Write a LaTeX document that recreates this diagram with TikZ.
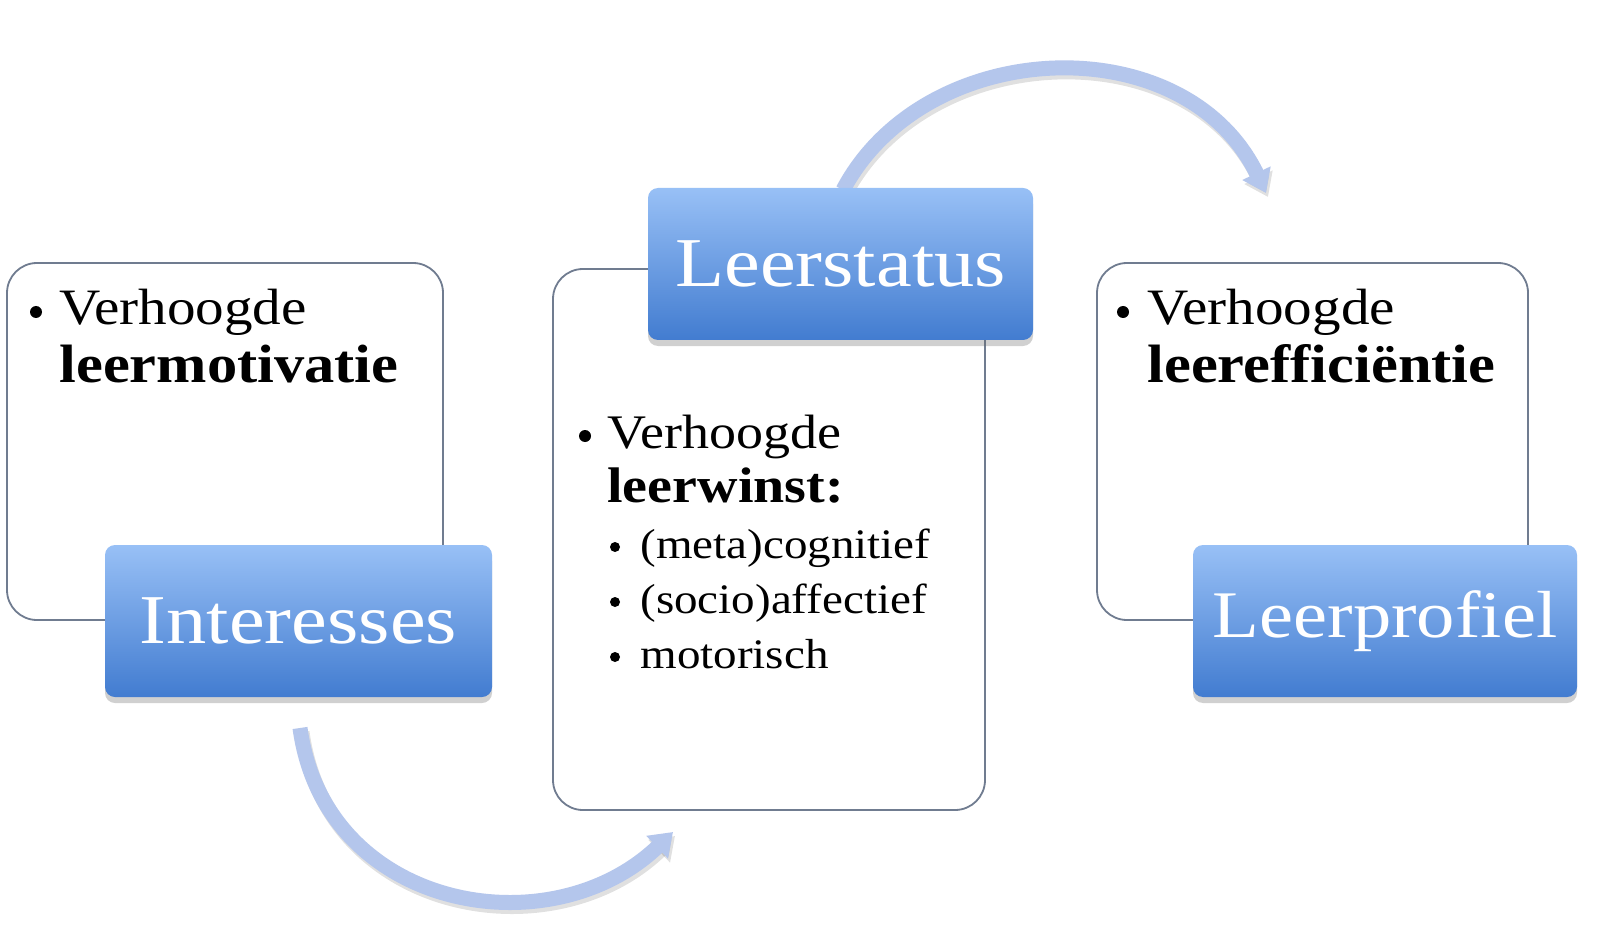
\documentclass[tikz,border=0pt]{standalone}
\usepackage{fontspec}
\setmainfont[FakeStretch=1.12]{Liberation Serif}
\newfontfamily\lblfont[FakeStretch=1.15]{Liberation Serif}
\usetikzlibrary{arrows.meta,shadows}
\definecolor{boxline}{RGB}{112,124,144}
\definecolor{bluetop}{RGB}{152,192,246}
\definecolor{bluebot}{RGB}{66,124,208}
\definecolor{arrowc}{RGB}{180,198,236}
\begin{document}
\begin{tikzpicture}[x=0.5pt,y=-0.5pt,
  whitebox/.style={draw=boxline, line width=0.9pt, rounded corners=15pt, fill=white, inner sep=0pt},
  bluebox/.style={rounded corners=5pt, top color=bluetop, bottom color=bluebot, text=white,
     font=\lblfont\fontsize{35}{35}\selectfont, inner sep=0pt,
     drop shadow={shadow xshift=0pt, shadow yshift=-3pt, opacity=0.3, fill=black!60}},
  reg/.style={font=\fontsize{25.5}{26}\selectfont, inner sep=0pt, anchor=base west},
  bld/.style={font=\bfseries\fontsize{27}{27}\selectfont, inner sep=0pt, anchor=base west},
  mreg/.style={font=\fontsize{24.1}{25}\selectfont, inner sep=0pt, anchor=base west},
  mbld/.style={font=\bfseries\fontsize{25}{25}\selectfont, inner sep=0pt, anchor=base west},
  subt/.style={font=\fontsize{21}{22}\selectfont, inner sep=0pt, anchor=base west},
  bul/.style={circle, fill=black, inner sep=0pt, minimum size=6pt},
  sbul/.style={circle, fill=black, inner sep=0pt, minimum size=5pt},
  arrowline/.style={line width=7.5pt, draw=arrowc, -{Triangle[length=11pt,width=15pt]}},
  arrowshadow/.style={line width=7.5pt, draw=black, opacity=0.12, -{Triangle[length=11pt,width=15pt]}}
]
\useasboundingbox[fill=white] (0,0) rectangle (1604,930);

% arrows (behind boxes)
\coordinate (a1s) at (300,728);
\coordinate (a1e) at (673,832);
\coordinate (a2s) at (843,190);
\coordinate (a2e) at (1266,193);
\draw[arrowshadow] ([shift={(2,4)}]a1s) .. controls (327,914) and (552,954) .. ([shift={(2,4)}]a1e);
\draw[arrowline] (a1s) .. controls (325,910) and (550,950) .. (a1e);
\draw[arrowshadow] ([shift={(2,4)}]a2s) .. controls (927,39) and (1187,29) .. ([shift={(2,4)}]a2e);
\draw[arrowline] (a2s) .. controls (925,35) and (1185,25) .. (a2e);

% white boxes
\node[whitebox, minimum width=218pt, minimum height=178.5pt] (lbox) at (225,441.5) {};
\node[whitebox, minimum width=216pt, minimum height=270.5pt] (mbox) at (769,539.5) {};
\node[whitebox, minimum width=215.5pt, minimum height=178.5pt] (rbox) at (1312.5,441.5) {};

% blue boxes
\node[bluebox, minimum width=193.5pt, minimum height=76pt] (inter) at (298.5,621) {Interesses};
\node[bluebox, minimum width=192.5pt, minimum height=76pt] (status) at (840.5,264) {Leerstatus};
\node[bluebox, minimum width=192pt, minimum height=76pt, font=\lblfont\fontsize{33.3}{34}\selectfont] (profiel) at (1385,621) {Leerprofiel};

% left text
\node[bul] (lb1) at (36,312) {};
\node[reg] (lt1) at (59,325) {Verhoogde};
\node[bld] (lt2) at (59,382) {leermotivatie};

% middle text
\node[bul] (mb1) at (585,436) {};
\node[mreg] (mt1) at (607,448) {Verhoogde};
\node[mbld] (mt2) at (607,502) {leerwinst:};
\node[sbul] (sb1) at (615,547) {};
\node[subt] (st1) at (640,558) {(meta)cognitief};
\node[sbul] (sb2) at (615,602) {};
\node[subt] (st2) at (640,613) {(socio)affectief};
\node[sbul] (sb3) at (615,657) {};
\node[subt] (st3) at (640,668) {motorisch};

% right text
\node[bul] (rb1) at (1123,312) {};
\node[reg] (rt1) at (1147,325) {Verhoogde};
\node[bld] (rt2) at (1147,382) {leerefficiëntie};
\end{tikzpicture}
\end{document}
